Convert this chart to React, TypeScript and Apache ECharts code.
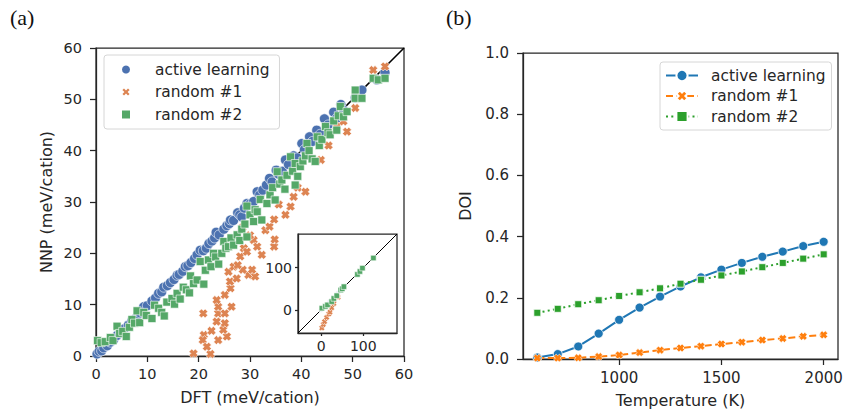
import React, { useEffect, useRef } from "react";
import * as echarts from "echarts";

// ---------- Panel (a) data ----------
const parityTicks = [0, 10, 20, 30, 40, 50, 60];
const activeParity: number[][] = [
  [0.2, 0.4], [0.6, 0.9], [1.1, 1.0], [1.5, 1.6], [2.2, 2.0], [2.8, 2.7], [3.4, 3.1], [4.1, 4.0], [4.8, 4.5],
  [5.5, 5.3], [6.3, 6.0], [7.0, 6.9], [7.8, 7.4], [8.6, 8.4], [9.3, 9.6], [10.0, 9.8], [10.9, 10.7], [11.6, 11.3],
  [12.2, 12.2], [12.8, 12.5], [13.2, 13.4], [13.9, 13.7], [14.5, 14.3], [15.2, 14.9], [15.8, 15.7], [16.2, 15.9],
  [16.9, 16.5], [17.4, 17.4], [17.9, 17.6], [18.5, 18.2], [19.2, 19.0], [19.7, 19.7], [20.3, 20.6], [20.9, 20.5],
  [21.5, 21.0], [22.0, 21.9], [22.6, 22.4], [23.1, 23.0], [23.4, 24.1], [24.0, 23.6], [24.9, 24.7], [25.5, 25.4],
  [26.0, 25.8], [26.2, 26.5], [26.8, 26.4], [27.6, 27.9], [28.0, 27.5], [28.4, 27.1], [28.9, 28.8], [29.4, 29.7],
  [30.0, 29.6], [30.7, 30.1], [31.4, 32.0], [31.9, 31.4], [32.5, 32.3], [33.2, 33.3], [33.8, 34.6], [34.3, 33.9],
  [35.1, 36.2], [35.6, 35.4], [36.3, 36.0], [36.9, 38.2], [37.5, 37.3], [38.5, 39.0], [39.2, 38.6], [40.1, 41.4],
  [40.6, 40.2], [41.6, 42.7], [42.2, 41.8], [43.0, 44.0], [43.7, 43.2], [44.5, 46.2], [45.2, 45.0], [46.3, 47.5],
  [46.9, 46.3], [47.7, 49.0], [48.3, 47.8], [50.5, 50.3], [51.8, 51.8], [54.7, 53.8], [56.3, 55.2],
];
const random1Parity: number[][] = [
  [19.0, 0.5], [22.3, 0.4], [20.9, 8.3], [21.0, 4.1], [20.8, 3.1], [21.6, 1.8], [22.5, 4.9], [23.8, 3.1],
  [25.5, 3.8], [24.8, 5.1], [25.1, 6.4], [23.5, 6.7], [23.8, 8.3], [25.1, 8.3], [23.8, 9.6], [26.4, 9.6],
  [23.5, 10.9], [25.1, 11.9], [26.2, 13.2], [26.1, 14.5], [27.4, 15.1], [25.8, 16.4], [29.7, 15.8], [31.0, 15.5],
  [28.6, 16.8], [26.8, 17.4], [27.6, 17.7], [28.1, 19.4], [28.8, 21.0], [29.4, 20.3], [30.4, 16.8], [30.7, 22.6],
  [31.4, 21.3], [32.3, 19.7], [33.0, 24.5], [33.8, 25.2], [34.7, 21.3], [34.8, 22.7], [34.7, 26.6], [35.6, 29.5],
  [36.9, 27.5], [37.9, 29.1], [38.5, 31.0], [39.3, 32.8], [40.8, 32.0], [43.8, 38.2], [45.3, 41.0], [46.9, 44.7],
  [48.9, 43.7], [48.2, 45.7], [50.5, 48.3], [54.0, 55.7], [56.3, 56.4], [28.5, 25.0], [30.0, 23.5],
];
const random2Parity: number[][] = [
  [0.3, 3.0], [1.0, 2.6], [1.8, 2.8], [2.8, 3.6], [3.3, 3.0], [4.1, 5.8], [4.6, 4.4], [5.2, 4.8], [5.9, 3.8],
  [6.5, 5.6], [7.0, 7.1], [7.5, 6.4], [8.0, 8.8], [8.5, 6.5], [9.3, 8.5], [9.8, 7.9], [10.9, 7.3], [11.4, 9.9],
  [12.2, 9.3], [12.8, 8.5], [13.3, 7.8], [13.8, 10.5], [14.8, 11.2], [15.3, 10.1], [15.8, 12.2], [16.4, 11.1],
  [17.0, 13.4], [17.6, 12.9], [18.2, 12.3], [18.4, 15.6], [19.0, 14.1], [19.7, 14.8], [20.3, 18.4], [21.0, 14.0],
  [21.3, 16.7], [21.9, 18.7], [22.4, 17.4], [22.9, 20.0], [23.3, 19.3], [23.9, 17.9], [24.5, 20.0], [24.9, 22.3],
  [25.3, 21.0], [25.8, 21.3], [26.3, 23.0], [26.8, 21.6], [27.5, 23.6], [28.0, 22.5], [28.4, 24.7], [29.0, 25.7],
  [29.4, 23.2], [29.4, 29.2], [30.0, 27.5], [30.7, 26.2], [31.0, 28.5], [31.4, 28.1], [32.3, 26.5], [32.0, 30.5],
  [33.3, 29.7], [33.9, 31.4], [34.4, 32.8], [34.9, 30.4], [35.3, 35.9], [35.8, 33.5], [36.2, 34.3], [36.8, 32.5],
  [37.2, 35.2], [37.9, 38.8], [38.3, 36.0], [38.8, 33.3], [38.8, 37.5], [39.3, 35.0], [39.8, 36.9], [40.3, 38.0],
  [40.8, 39.0], [41.1, 41.4], [41.5, 40.0], [42.1, 38.4], [42.7, 37.9], [43.1, 42.7], [43.5, 41.0], [44.0, 42.2],
  [44.7, 44.7], [45.2, 43.5], [45.6, 43.1], [46.3, 45.8], [46.9, 44.0], [47.6, 48.6], [47.2, 46.8], [48.2, 46.6],
  [48.9, 47.6], [50.5, 51.8], [50.5, 50.2], [51.8, 50.2], [54.0, 54.1], [55.0, 53.8], [56.3, 54.1],
];
// inset (full range)
const insetTicks = [0, 100];
const activeInset: number[][] = [[0, 0], [20, 20], [40, 40], [55, 54]];
const random1Inset: number[][] = [
  [1.6, -43], [5, -35], [8, -28], [13, -18], [18, -10], [21, -5.5], [25, 5], [30, 15], [40, 30],
];
const random2Inset: number[][] = [
  [1.6, 3.9], [10, 8], [15, 11.7], [25, 19.5], [30, 27], [37, 33.6], [46.5, 47], [50, 50], [54, 55],
  [86, 84], [92, 91], [98, 99], [124, 123],
];

// ---------- Panel (b) data ----------
const temperatures = [600, 700, 800, 900, 1000, 1100, 1200, 1300, 1400, 1500, 1600, 1700, 1800, 1900, 2000];
const doiActive = [0.005, 0.016, 0.041, 0.083, 0.128, 0.168, 0.204, 0.237, 0.267, 0.292, 0.314, 0.334, 0.351, 0.369, 0.383];
const doiRandom1 = [0.003, 0.003, 0.004, 0.008, 0.013, 0.021, 0.029, 0.036, 0.042, 0.049, 0.055, 0.062, 0.067, 0.074, 0.079];
const doiRandom2 = [0.151, 0.164, 0.179, 0.192, 0.206, 0.218, 0.231, 0.246, 0.259, 0.273, 0.286, 0.300, 0.314, 0.328, 0.342];
const tempTicks = [1000, 1500, 2000];
const seriesNames = ["active learning", "random #1", "random #2"];

const X_PATH = "path://M3,0 L5,2 L7,0 L10,3 L8,5 L10,7 L7,10 L5,8 L3,10 L0,7 L2,5 L0,3 Z";
const FONT = "DejaVu Sans";
const TXT = "#262626";

export default function App() {
  const ref = useRef<HTMLDivElement>(null);
  useEffect(() => {
    if (!ref.current) return;
    const chart = echarts.init(ref.current, undefined, { renderer: "svg" });
    const deep = ["#4c72b0", "#dd8452", "#55a868"];
    const tab = ["#1f77b4", "#ff7f0e", "#2ca02c"];
    const axisCommon = {
      axisLine: { show: true, onZero: false, lineStyle: { color: TXT, width: 1.25 } },
      axisTick: { show: true, inside: false, length: 6, lineStyle: { color: TXT, width: 1.25 } },
      splitLine: { show: false },
      nameTextStyle: { color: TXT, fontSize: 16, fontFamily: FONT },
    };
    const lbl = (margin: number, size = 14.5) => ({ color: TXT, fontSize: size, fontFamily: FONT, margin, formatter: (v: number) => String(v) });
    const sc = (name: string, data: number[][], symbol: string, size: number, color: string, xi: number) => ({
      type: "scatter", name, data, symbol, symbolSize: size, xAxisIndex: xi, yAxisIndex: xi,
      itemStyle: { color, borderColor: "#fff", borderWidth: 0.6, opacity: 1 }, z: 3,
    });
    const nm = (s: string) => s + " (b)";
    const option: any = {
      animation: false,
      grid: [
        { left: 96, top: 48, width: 308, height: 308, show: true, borderColor: TXT, borderWidth: 1.25, backgroundColor: "transparent" },
        { left: 298, top: 234, width: 99, height: 99, show: true, borderColor: TXT, borderWidth: 1.25, backgroundColor: "#fff", z: 5 },
        { left: 523, top: 53, width: 315, height: 309, show: true, borderColor: TXT, borderWidth: 1.25, backgroundColor: "transparent" },
      ],
      xAxis: [
        { ...axisCommon, gridIndex: 0, type: "value", min: 0, max: 60, interval: 10, name: "DFT (meV/cation)", nameLocation: "middle", nameGap: 33, axisLabel: lbl(10) },
        { ...axisCommon, gridIndex: 1, type: "value", min: -55, max: 180, z: 6,
          axisTick: { ...axisCommon.axisTick, length: 3, customValues: insetTicks },
          axisLabel: { ...lbl(6, 14), customValues: insetTicks } },
        { ...axisCommon, gridIndex: 2, type: "value", min: 530, max: 2070, name: "Temperature (K)", nameLocation: "middle", nameGap: 33,
          axisTick: { ...axisCommon.axisTick, customValues: tempTicks },
          axisLabel: { ...lbl(11, 15), customValues: tempTicks } },
      ],
      yAxis: [
        { ...axisCommon, gridIndex: 0, type: "value", min: 0, max: 60, interval: 10, name: "NNP (meV/cation)", nameLocation: "middle", nameGap: 42, axisLabel: lbl(14) },
        { ...axisCommon, gridIndex: 1, type: "value", min: -55, max: 180, z: 6,
          axisTick: { ...axisCommon.axisTick, length: 3, customValues: insetTicks },
          axisLabel: { ...lbl(6, 14), customValues: insetTicks } },
        { ...axisCommon, gridIndex: 2, type: "value", min: 0, max: 1, interval: 0.2, name: "DOI", nameLocation: "middle", nameGap: 50,
          axisLabel: { ...lbl(14, 15), formatter: (v: number) => v.toFixed(1) } },
      ],
      legend: [
        {
          data: seriesNames, orient: "vertical", left: 104, top: 55, padding: [7, 10, 7, 16],
          itemWidth: 10, itemHeight: 10, itemGap: 7.5,
          backgroundColor: "#fff", borderColor: "#d6d6d6", borderWidth: 1, borderRadius: 3,
          textStyle: { color: TXT, fontSize: 15.4, fontFamily: FONT, padding: [0, 0, 0, 19] },
          z: 10,
        },
        {
          data: seriesNames.map(nm), orient: "vertical", left: 660, top: 62, padding: [6, 6, 6, 5],
          itemWidth: 32, itemHeight: 14, itemGap: 5.5,
          backgroundColor: "#fff", borderColor: "#d6d6d6", borderWidth: 1, borderRadius: 3,
          formatter: (n: string) => n.replace(" (b)", ""),
          textStyle: { color: TXT, fontSize: 15.4, fontFamily: FONT, padding: [0, 0, 0, 8] },
          z: 10,
        },
      ],
      series: [
        { type: "line", data: [[0, 0], [60, 60]], xAxisIndex: 0, yAxisIndex: 0, symbol: "none", silent: true,
          lineStyle: { color: "#000", width: 1.6 }, z: 1 },
        sc(seriesNames[0], activeParity, "circle", 10, deep[0], 0),
        sc(seriesNames[1], random1Parity, X_PATH, 9, deep[1], 0),
        sc(seriesNames[2], random2Parity, "rect", 8, deep[2], 0),
        { type: "line", data: [[-55, -55], [180, 180]], xAxisIndex: 1, yAxisIndex: 1, symbol: "none", silent: true,
          lineStyle: { color: "#000", width: 1 }, z: 6 },
        { ...sc("a-inset", activeInset, "circle", 5, deep[0], 1), itemStyle: { color: "#dfe6f2", borderColor: "#fff", borderWidth: 0.5 }, z: 7 },
        { ...sc("r1-inset", random1Inset, X_PATH, 6, deep[1], 1), z: 7 },
        { ...sc("r2-inset", random2Inset, "rect", 5.5, deep[2], 1), z: 7 },
        { type: "line", name: nm(seriesNames[0]), xAxisIndex: 2, yAxisIndex: 2,
          data: temperatures.map((t, i) => [t, doiActive[i]]), symbol: "circle", symbolSize: 9,
          itemStyle: { color: tab[0], borderColor: "#fff", borderWidth: 0.8 }, lineStyle: { color: tab[0], width: 2 }, z: 3 },
        { type: "line", name: nm(seriesNames[1]), xAxisIndex: 2, yAxisIndex: 2,
          data: temperatures.map((t, i) => [t, doiRandom1[i]]), symbol: X_PATH, symbolSize: 8,
          itemStyle: { color: tab[1], borderColor: "#fff", borderWidth: 0.6 }, lineStyle: { color: tab[1], width: 2, type: [7, 3.5] }, z: 3 },
        { type: "line", name: nm(seriesNames[2]), xAxisIndex: 2, yAxisIndex: 2,
          data: temperatures.map((t, i) => [t, doiRandom2[i]]), symbol: "rect", symbolSize: 7,
          itemStyle: { color: tab[2], borderColor: "#fff", borderWidth: 0.8 }, lineStyle: { color: tab[2], width: 2, type: [2, 3.3] }, z: 3 },
      ],
      graphic: [
        { type: "text", left: 10, top: 6, style: { text: "(a)", fontSize: 22, fontFamily: "Liberation Serif", fill: "#111" } },
        { type: "text", left: 446, top: 6, style: { text: "(b)", fontSize: 22, fontFamily: "Liberation Serif", fill: "#111" } },
      ],
    };
    chart.setOption(option);
    return () => chart.dispose();
  }, []);
  return <div ref={ref} style={{ width: 846, height: 413, position: "absolute", left: 0, top: 0, background: "#fff" }} />;
}
